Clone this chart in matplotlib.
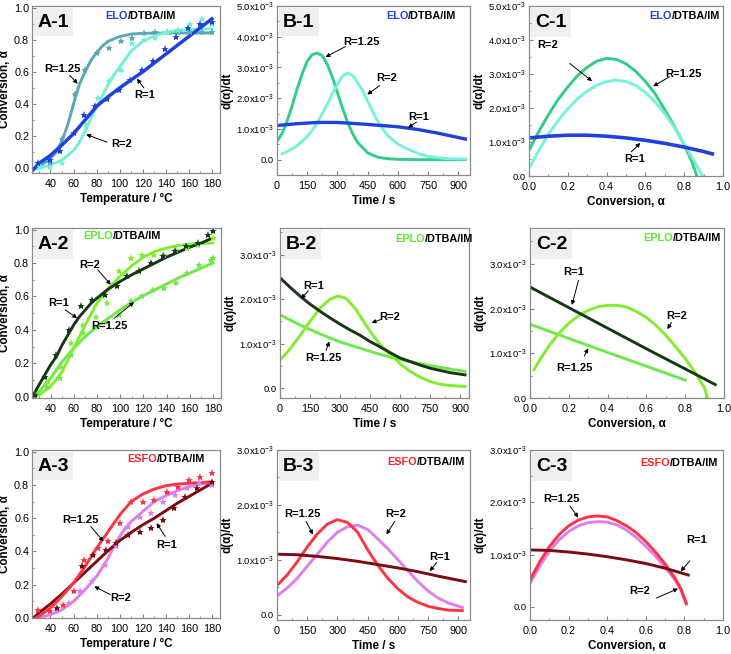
import numpy as np
import matplotlib
matplotlib.use("Agg")
import matplotlib.pyplot as plt
from matplotlib.patches import Rectangle
from matplotlib.ticker import MultipleLocator, FuncFormatter

plt.rcParams['font.family'] = ['Liberation Sans', 'DejaVu Sans']
plt.rcParams['mathtext.default'] = 'regular'

#---------------------------------------------------------------- data ----------------------------------------------------------------#
# rates (d(alpha)/dt) are stored in units of 1e-3 s^-1

# A-1  ELO conversion vs temperature
a1_T_R1 = [25, 30, 40, 50, 60, 70, 80, 90, 100, 110, 120, 130, 140, 150, 160, 170, 180]
a1_a_R1 = [-0.01, 0.03, 0.08, 0.145, 0.215, 0.30, 0.385, 0.445, 0.50, 0.55, 0.60, 0.655, 0.71, 0.765, 0.82, 0.875, 0.93]
a1_T_R125 = [25, 30, 40, 45, 50, 55, 60, 65, 70, 75, 80, 85, 90, 100, 110, 120, 140, 160, 180]
a1_a_R125 = [-0.01, 0.01, 0.06, 0.10, 0.17, 0.27, 0.40, 0.52, 0.60, 0.67, 0.72, 0.76, 0.79, 0.82, 0.835, 0.84, 0.842, 0.842, 0.842]
a1_T_R2 = [25, 30, 40, 50, 60, 65, 70, 75, 80, 85, 90, 95, 100, 105, 110, 120, 130, 140, 150, 165, 180]
a1_a_R2 = [-0.01, 0.0, 0.02, 0.05, 0.11, 0.16, 0.23, 0.31, 0.38, 0.45, 0.52, 0.58, 0.63, 0.68, 0.73, 0.79, 0.825, 0.845, 0.858, 0.865, 0.868]
a1_sT_R1 = [29, 40, 48, 60, 69, 79, 89, 99, 109, 119, 129, 139, 149, 159, 170, 180]
a1_sa_R1 = [0.03, 0.05, 0.11, 0.22, 0.33, 0.39, 0.43, 0.49, 0.55, 0.61, 0.67, 0.74, 0.82, 0.87, 0.90, 0.91]
a1_sT_R125 = [30, 40, 50, 61, 70, 80, 91, 101, 111, 121, 131, 141, 151, 161, 171, 180]
a1_sa_R125 = [0.02, 0.03, 0.18, 0.46, 0.61, 0.72, 0.75, 0.79, 0.81, 0.84, 0.85, 0.85, 0.85, 0.85, 0.85, 0.85]
a1_sT_R2 = [32, 40, 50, 71, 81, 91, 101, 111, 121, 131, 141, 151, 161, 171, 180]
a1_sa_R2 = [0.01, 0.01, 0.03, 0.27, 0.44, 0.54, 0.61, 0.78, 0.80, 0.81, 0.85, 0.86, 0.90, 0.93, 0.90]

# B-1  ELO rate vs time
b1_t_R1 = [0, 100, 200, 300, 400, 500, 600, 700, 800, 935]
b1_r_R1 = [1.11, 1.17, 1.21, 1.21, 1.17, 1.12, 1.07, 0.98, 0.86, 0.67]
b1_t_R125 = [0, 25, 50, 75, 100, 125, 150, 175, 200, 225, 250, 275, 300, 325, 350, 375, 400, 450, 500, 550, 600, 700, 800, 935]
b1_r_R125 = [0.60, 0.85, 1.25, 1.75, 2.30, 2.80, 3.20, 3.42, 3.47, 3.38, 3.10, 2.68, 2.18, 1.68, 1.22, 0.85, 0.56, 0.22, 0.08, 0.03, 0.01, 0.0, 0.0, 0.0]
b1_t_R2 = [26, 50, 100, 150, 175, 200, 225, 250, 275, 300, 325, 350, 375, 400, 425, 450, 475, 500, 525, 550, 600, 650, 700, 750, 800, 850, 935]
b1_r_R2 = [0.19, 0.26, 0.45, 0.75, 0.96, 1.20, 1.50, 1.80, 2.15, 2.45, 2.72, 2.82, 2.74, 2.52, 2.24, 1.90, 1.56, 1.25, 1.00, 0.78, 0.50, 0.34, 0.20, 0.11, 0.06, 0.03, 0.02]

# C-1  ELO rate vs conversion
c1_c_R1 = [0.0, 0.1, 0.2, 0.3, 0.4, 0.5, 0.6, 0.7, 0.8, 0.9, 0.945]
c1_r_R1 = [1.12, 1.17, 1.20, 1.20, 1.17, 1.12, 1.05, 0.96, 0.85, 0.72, 0.65]
c1_c_R125 = [0.0, 0.05, 0.1, 0.15, 0.2, 0.25, 0.3, 0.35, 0.4, 0.45, 0.5, 0.55, 0.6, 0.65, 0.7, 0.75, 0.8, 0.84, 0.865]
c1_r_R125 = [0.76, 1.30, 1.80, 2.25, 2.62, 2.95, 3.20, 3.38, 3.46, 3.43, 3.30, 3.08, 2.78, 2.42, 1.95, 1.45, 0.92, 0.42, 0.0]
c1_c_R2 = [0.0, 0.05, 0.1, 0.15, 0.2, 0.25, 0.3, 0.35, 0.4, 0.45, 0.5, 0.55, 0.6, 0.65, 0.7, 0.75, 0.8, 0.85, 0.895]
c1_r_R2 = [0.22, 0.75, 1.22, 1.63, 1.98, 2.27, 2.50, 2.67, 2.78, 2.82, 2.78, 2.66, 2.46, 2.18, 1.83, 1.42, 0.95, 0.45, 0.0]

# A-2  EPLO conversion vs temperature
a2_T_R1 = [26, 30, 35, 40, 45, 50, 55, 60, 65, 70, 75, 80, 90, 100, 110, 120, 130, 140, 150, 160, 170, 178]
a2_a_R1 = [0.02, 0.07, 0.13, 0.19, 0.24, 0.31, 0.37, 0.43, 0.48, 0.52, 0.56, 0.59, 0.645, 0.69, 0.73, 0.765, 0.80, 0.835, 0.865, 0.895, 0.92, 0.945]
a2_T_R125 = [26, 30, 40, 50, 60, 70, 80, 90, 100, 110, 120, 130, 140, 150, 160, 170, 180]
a2_a_R125 = [0.0, 0.03, 0.11, 0.21, 0.29, 0.36, 0.42, 0.47, 0.52, 0.565, 0.605, 0.64, 0.675, 0.71, 0.74, 0.77, 0.80]
a2_T_R2 = [26, 30, 40, 50, 60, 70, 80, 90, 95, 100, 110, 120, 130, 140, 150, 160, 170, 180]
a2_a_R2 = [0.0, 0.01, 0.06, 0.15, 0.29, 0.43, 0.56, 0.65, 0.685, 0.72, 0.785, 0.835, 0.87, 0.89, 0.905, 0.913, 0.918, 0.92]
a2_sT_R1 = [27, 35, 45, 56, 66, 76, 87, 97, 106, 116, 127, 137, 147, 157, 167, 176, 180]
a2_sa_R1 = [0.01, 0.12, 0.25, 0.40, 0.54, 0.58, 0.61, 0.66, 0.72, 0.75, 0.80, 0.84, 0.87, 0.90, 0.92, 0.97, 0.99]
a2_sT_R125 = [27, 37, 48, 58, 68, 78, 88, 99, 109, 119, 128, 138, 148, 158, 168, 178, 180]
a2_sa_R125 = [0.01, 0.06, 0.11, 0.25, 0.38, 0.42, 0.45, 0.49, 0.57, 0.60, 0.64, 0.65, 0.68, 0.74, 0.79, 0.82, 0.83]
a2_sT_R2 = [27, 38, 49, 58, 68, 79, 89, 99, 109, 119, 129, 138, 148, 158, 167, 180]
a2_sa_R2 = [0.0, 0.09, 0.18, 0.32, 0.43, 0.48, 0.56, 0.75, 0.83, 0.85, 0.85, 0.85, 0.88, 0.89, 0.91, 0.95]

# B-2  EPLO rate vs time
b2_t_R1 = [0, 50, 100, 150, 200, 250, 300, 350, 400, 450, 500, 550, 600, 650, 700, 750, 800, 850, 925]
b2_r_R1 = [2.48, 2.27, 2.07, 1.89, 1.73, 1.58, 1.44, 1.31, 1.19, 1.05, 0.93, 0.80, 0.68, 0.60, 0.52, 0.45, 0.40, 0.35, 0.30]
b2_t_R125 = [0, 100, 200, 300, 400, 500, 575, 650, 750, 850, 925]
b2_r_R125 = [1.65, 1.42, 1.22, 1.04, 0.90, 0.76, 0.67, 0.60, 0.51, 0.43, 0.38]
b2_t_R2 = [0, 50, 100, 150, 200, 250, 290, 330, 375, 425, 450, 500, 550, 575, 600, 650, 700, 750, 800, 850, 925]
b2_r_R2 = [0.63, 0.88, 1.18, 1.50, 1.80, 2.00, 2.07, 2.02, 1.80, 1.45, 1.28, 0.98, 0.77, 0.67, 0.55, 0.38, 0.25, 0.15, 0.09, 0.06, 0.04]

# C-2  EPLO rate vs conversion
c2_c_R1 = [0.0, 0.2, 0.4, 0.6, 0.8, 0.955]
c2_r_R1 = [2.48, 2.02, 1.56, 1.10, 0.65, 0.30]
c2_c_R125 = [0.0, 0.2, 0.4, 0.6, 0.8]
c2_r_R125 = [1.65, 1.33, 1.02, 0.71, 0.40]
c2_c_R2 = [0.02, 0.05, 0.1, 0.15, 0.2, 0.25, 0.3, 0.35, 0.4, 0.45, 0.5, 0.55, 0.6, 0.65, 0.7, 0.75, 0.8, 0.85, 0.9, 0.915]
c2_r_R2 = [0.63, 0.85, 1.18, 1.45, 1.67, 1.84, 1.96, 2.04, 2.07, 2.07, 2.03, 1.93, 1.80, 1.62, 1.40, 1.15, 0.88, 0.58, 0.22, 0.0]

# A-3  ESFO conversion vs temperature
a3_T_R1 = [25, 30, 40, 50, 60, 70, 80, 90, 100, 110, 120, 130, 140, 150, 160, 170, 180]
a3_a_R1 = [0.0, 0.03, 0.085, 0.145, 0.21, 0.275, 0.34, 0.405, 0.465, 0.515, 0.56, 0.60, 0.645, 0.69, 0.73, 0.77, 0.81]
a3_T_R125 = [27, 30, 40, 50, 60, 70, 80, 90, 100, 110, 120, 130, 140, 150, 160, 170, 180]
a3_a_R125 = [0.0, 0.01, 0.06, 0.13, 0.21, 0.31, 0.42, 0.52, 0.62, 0.70, 0.745, 0.775, 0.795, 0.805, 0.81, 0.815, 0.818]
a3_T_R2 = [30, 40, 50, 60, 70, 80, 90, 95, 100, 105, 110, 120, 130, 140, 150, 160, 170, 180]
a3_a_R2 = [0.0, 0.02, 0.05, 0.10, 0.17, 0.25, 0.36, 0.43, 0.49, 0.54, 0.58, 0.64, 0.70, 0.735, 0.765, 0.79, 0.805, 0.812]
a3_sT_R1 = [46, 67, 77, 88, 97, 107, 118, 127, 138, 147, 157, 167, 180]
a3_sa_R1 = [0.06, 0.31, 0.38, 0.41, 0.45, 0.50, 0.52, 0.54, 0.59, 0.66, 0.73, 0.78, 0.82]
a3_sT_R125 = [29, 40, 51, 60, 69, 81, 90, 100, 110, 120, 130, 141, 151, 160, 170, 180]
a3_sa_R125 = [0.05, 0.04, 0.08, 0.16, 0.35, 0.42, 0.46, 0.57, 0.70, 0.70, 0.71, 0.76, 0.79, 0.83, 0.85, 0.87]
a3_sT_R2 = [46, 56, 66, 76, 87, 97, 107, 118, 127, 138, 148, 158, 169, 180]
a3_sa_R2 = [0.04, 0.09, 0.16, 0.22, 0.32, 0.43, 0.55, 0.61, 0.63, 0.70, 0.74, 0.78, 0.82, 0.80]

# B-3  ESFO rate vs time
b3_t_R1 = [0, 100, 200, 300, 400, 500, 600, 700, 800, 935]
b3_r_R1 = [1.10, 1.09, 1.06, 1.02, 0.97, 0.91, 0.85, 0.78, 0.70, 0.60]
b3_t_R125 = [0, 50, 100, 150, 200, 250, 300, 350, 400, 450, 500, 550, 600, 650, 700, 750, 800, 850, 920]
b3_r_R125 = [0.53, 0.72, 0.96, 1.23, 1.47, 1.65, 1.73, 1.68, 1.50, 1.18, 0.90, 0.66, 0.47, 0.32, 0.22, 0.15, 0.11, 0.08, 0.07]
b3_t_R2 = [0, 50, 100, 150, 200, 250, 300, 350, 400, 450, 500, 550, 600, 650, 700, 750, 800, 850, 920]
b3_r_R2 = [0.34, 0.48, 0.66, 0.88, 1.10, 1.32, 1.50, 1.60, 1.63, 1.55, 1.38, 1.20, 1.00, 0.80, 0.60, 0.43, 0.30, 0.21, 0.13]

# C-3  ESFO rate vs conversion
c3_c_R1 = [0.0, 0.1, 0.2, 0.3, 0.4, 0.5, 0.6, 0.7, 0.82]
c3_r_R1 = [1.09, 1.08, 1.05, 1.01, 0.96, 0.90, 0.83, 0.74, 0.61]
c3_c_R125 = [0.0, 0.05, 0.1, 0.15, 0.2, 0.25, 0.3, 0.35, 0.4, 0.45, 0.5, 0.55, 0.6, 0.65, 0.7, 0.75, 0.78, 0.81]
c3_r_R125 = [0.52, 0.86, 1.15, 1.38, 1.55, 1.66, 1.72, 1.74, 1.72, 1.65, 1.55, 1.42, 1.25, 1.05, 0.82, 0.56, 0.36, 0.07]
c3_c_R2 = [0.0, 0.05, 0.1, 0.15, 0.2, 0.25, 0.3, 0.35, 0.4, 0.45, 0.5, 0.55, 0.6, 0.65, 0.7, 0.75, 0.78, 0.81]
c3_r_R2 = [0.45, 0.78, 1.06, 1.28, 1.44, 1.55, 1.61, 1.63, 1.62, 1.57, 1.47, 1.33, 1.16, 0.97, 0.76, 0.52, 0.34, 0.05]

#---------------------------------------------------------------- colours ----------------------------------------------------------------#
ELO_R1, ELO_A125, ELO_A2, ELO_R125, ELO_R2 = '#2040e0', '#5aa7b5', '#72f0d6', '#33cc88', '#77f2da'
EPLO_R1, EPLO_R125, EPLO_R2 = '#163816', '#6ee84a', '#80ee30'
ESFO_R1, ESFO_R125, ESFO_R2 = '#7a0c10', '#ff3344', '#dd80ee'

W, H = 731, 654
fig = plt.figure(figsize=(W / 100, H / 100), dpi=100)


def make_ax(x0, y0, x1, y1):
    # pixel box -> figure fraction
    return fig.add_axes([x0 / W, 1 - y1 / H, (x1 - x0) / W, (y1 - y0) / H])


def sci_fmt(v, pos):
    if abs(v) < 1e-9:
        return '0.0'
    return f'{v:.1f}x10$^{{-3}}$'


def setup(ax, xlim, ylim, xmaj, ymaj, xlabel, ylabel, sci=False):
    ax.set_xlim(*xlim)
    ax.set_ylim(*ylim)
    ax.xaxis.set_major_locator(MultipleLocator(xmaj))
    ax.xaxis.set_minor_locator(MultipleLocator(xmaj / 2))
    ax.yaxis.set_major_locator(MultipleLocator(ymaj))
    ax.yaxis.set_minor_locator(MultipleLocator(ymaj / 2))
    ax.tick_params(which='both', direction='in', color='#808080')
    ax.tick_params(which='major', length=3)
    ax.tick_params(which='minor', length=1.5)
    ax.tick_params(axis='x', labelsize=7.8, pad=4)
    if sci:
        ax.yaxis.set_major_formatter(FuncFormatter(sci_fmt))
        ax.tick_params(axis='y', labelsize=6.8, pad=2)
    else:
        ax.yaxis.set_major_formatter(FuncFormatter(lambda v, p: f'{v:.1f}'))
        ax.tick_params(axis='y', labelsize=7.8, pad=2)
    for s in ax.spines.values():
        s.set_color('#8a8a8a')
        s.set_linewidth(0.9)
    ax.set_xlabel(xlabel, fontsize=8.4, fontweight='bold', labelpad=3)
    ax.set_ylabel(ylabel, fontsize=8.4, fontweight='bold', labelpad=2)


def tag(ax, label, sample, scol, jx, jy):
    ax.add_patch(Rectangle((0.012, 0.82), 0.205, 0.17, transform=ax.transAxes, facecolor='#efefef', edgecolor='none', zorder=1))
    ax.text(0.113, 0.902, label, transform=ax.transAxes, ha='center', va='center', fontsize=14, fontweight='bold', zorder=2)
    ax.text(jx, jy, sample, transform=ax.transAxes, ha='right', va='center', fontsize=7.8, fontweight='bold', color=scol)
    ax.text(jx, jy, '/DTBA/IM', transform=ax.transAxes, ha='left', va='center', fontsize=7.8, fontweight='bold', color='k')


def note(ax, label, txy, start, end):
    ax.text(txy[0], txy[1], label, ha='center', va='center', fontsize=8, fontweight='bold')
    ax.annotate('', xy=end, xytext=start,
                arrowprops=dict(arrowstyle='-|>', color='k', lw=0.7, mutation_scale=6, shrinkA=0, shrinkB=0))


TLAB = 'Temperature / °C'
SLAB = 'Time / s'
CLAB = 'Conversion, α'
ALAB = 'Conversion, α'
RLAB = 'd(α)/dt'
LW = 2.1
MS = 6

#---------------------------------------------------------------- row 1 : ELO ----------------------------------------------------------------#
ax = make_ax(32, 6, 220, 173)
setup(ax, (24, 187), (-0.03, 1.01), 20, 0.2, TLAB, ALAB)
ax.plot(a1_T_R125, a1_a_R125, color=ELO_A125, lw=LW)
ax.plot(a1_T_R2, a1_a_R2, color=ELO_A2, lw=LW)
ax.plot(a1_T_R1, a1_a_R1, color=ELO_R1, lw=2.5)
ax.plot(a1_sT_R125, a1_sa_R125, '*', color=ELO_A125, ms=MS, mew=0)
ax.plot(a1_sT_R2, a1_sa_R2, '*', color=ELO_A2, ms=MS, mew=0)
ax.plot(a1_sT_R1, a1_sa_R1, '*', color=ELO_R1, ms=MS, mew=0)
note(ax, 'R=1.25', (50, 0.62), (56.7, 0.578), (63.6, 0.526))
note(ax, 'R=1', (122, 0.453), (121, 0.50), (115, 0.557))
note(ax, 'R=2', (102, 0.148), (89, 0.162), (71, 0.21))
tag(ax, 'A-1', 'ELO', '#2244ee', 0.51, 0.94)

ax = make_ax(277, 6, 470, 175)
setup(ax, (0, 958), (-0.5, 5.0), 150, 1.0, SLAB, RLAB, sci=True)
ax.plot(b1_t_R125, b1_r_R125, color=ELO_R125, lw=LW)
ax.plot(b1_t_R2, b1_r_R2, color=ELO_R2, lw=LW)
ax.plot(b1_t_R1, b1_r_R1, color=ELO_R1, lw=2.4)
note(ax, 'R=1.25', (418, 3.84), (340, 3.68), (241, 3.34))
note(ax, 'R=2', (543, 2.66), (510, 2.41), (448, 2.12))
note(ax, 'R=1', (701, 1.39), (692, 1.22), (651, 1.04))
tag(ax, 'B-1', 'ELO', '#2244ee', 0.68, 0.943)

ax = make_ax(529, 6, 723, 176)
setup(ax, (0, 1.0), (0, 5.0), 0.2, 1.0, CLAB, RLAB, sci=True)
ax.plot(c1_c_R125, c1_r_R125, color=ELO_R125, lw=LW)
ax.plot(c1_c_R2, c1_r_R2, color=ELO_R2, lw=LW)
ax.plot(c1_c_R1, c1_r_R1, color=ELO_R1, lw=2.6)
note(ax, 'R=2', (0.098, 3.85), (0.21, 3.31), (0.325, 2.79))
note(ax, 'R=1.25', (0.794, 3.0), (0.725, 2.92), (0.64, 2.64))
note(ax, 'R=1', (0.545, 0.51), (0.527, 0.71), (0.574, 0.97))
tag(ax, 'C-1', 'ELO', '#2244ee', 0.735, 0.943)

#---------------------------------------------------------------- row 2 : EPLO ----------------------------------------------------------------#
ax = make_ax(32, 228, 221, 398)
setup(ax, (24, 187), (-0.008, 1.01), 20, 0.2, TLAB, ALAB)
ax.plot(a2_T_R125, a2_a_R125, color=EPLO_R125, lw=LW)
ax.plot(a2_T_R2, a2_a_R2, color=EPLO_R2, lw=LW)
ax.plot(a2_T_R1, a2_a_R1, color=EPLO_R1, lw=LW)
ax.plot(a2_sT_R125, a2_sa_R125, '*', color=EPLO_R125, ms=MS, mew=0)
ax.plot(a2_sT_R2, a2_sa_R2, '*', color=EPLO_R2, ms=MS, mew=0)
ax.plot(a2_sT_R1, a2_sa_R1, '*', color=EPLO_R1, ms=MS, mew=0)
note(ax, 'R=1', (47, 0.56), (52.6, 0.52), (63, 0.47))
note(ax, 'R=2', (74, 0.79), (80.7, 0.76), (92, 0.67))
note(ax, 'R=1.25', (91, 0.424), (95, 0.47), (112, 0.566))
tag(ax, 'A-2', 'EPLO', '#55ee22', 0.43, 0.955)

ax = make_ax(280, 228, 469, 398)
setup(ax, (0, 945), (-0.22, 3.6), 150, 1.0, SLAB, RLAB, sci=True)
ax.plot(b2_t_R125, b2_r_R125, color=EPLO_R125, lw=LW)
ax.plot(b2_t_R2, b2_r_R2, color=EPLO_R2, lw=LW)
ax.plot(b2_t_R1, b2_r_R1, color=EPLO_R1, lw=LW)
note(ax, 'R=1', (167, 2.29), (142, 2.19), (105, 2.01))
note(ax, 'R=2', (550, 1.60), (508, 1.55), (458, 1.47))
note(ax, 'R=1.25', (217, 0.67), (230, 0.85), (247, 1.05))
tag(ax, 'B-2', 'EPLO', '#55ee22', 0.767, 0.935)

ax = make_ax(530, 228, 724, 398)
setup(ax, (0, 1.0), (0, 3.8), 0.2, 1.0, CLAB, RLAB, sci=True)
ax.plot(c2_c_R125, c2_r_R125, color=EPLO_R125, lw=LW)
ax.plot(c2_c_R2, c2_r_R2, color=EPLO_R2, lw=LW)
ax.plot(c2_c_R1, c2_r_R1, color=EPLO_R1, lw=LW)
note(ax, 'R=1', (0.223, 2.81), (0.25, 2.63), (0.216, 2.08))
note(ax, 'R=2', (0.755, 1.84), (0.729, 1.69), (0.708, 1.54))
note(ax, 'R=1.25', (0.23, 0.68), (0.28, 0.94), (0.30, 1.11))
tag(ax, 'C-2', 'EPLO', '#55ee22', 0.739, 0.943)

#---------------------------------------------------------------- row 3 : ESFO ----------------------------------------------------------------#
ax = make_ax(32, 450, 220, 618)
setup(ax, (24, 187), (0, 1.01), 20, 0.2, TLAB, ALAB)
ax.plot(a3_T_R2, a3_a_R2, color=ESFO_R2, lw=LW)
ax.plot(a3_T_R1, a3_a_R1, color=ESFO_R1, lw=LW)
ax.plot(a3_T_R125, a3_a_R125, color=ESFO_R125, lw=LW)
ax.plot(a3_sT_R2, a3_sa_R2, '*', color=ESFO_R2, ms=MS, mew=0)
ax.plot(a3_sT_R1, a3_sa_R1, '*', color=ESFO_R1, ms=MS, mew=0)
ax.plot(a3_sT_R125, a3_sa_R125, '*', color=ESFO_R125, ms=MS, mew=0)
note(ax, 'R=1.25', (66.4, 0.59), (75, 0.55), (86, 0.46))
note(ax, 'R=2', (101, 0.12), (92, 0.14), (78, 0.19))
note(ax, 'R=1', (141, 0.44), (139.5, 0.49), (132, 0.57))
tag(ax, 'A-3', 'ESFO', '#ff2222', 0.663, 0.946)

ax = make_ax(277, 450, 470, 620)
setup(ax, (0, 958), (-0.1, 3.0), 150, 1.0, SLAB, RLAB, sci=True)
ax.plot(b3_t_R2, b3_r_R2, color=ESFO_R2, lw=LW)
ax.plot(b3_t_R125, b3_r_R125, color=ESFO_R125, lw=LW)
ax.plot(b3_t_R1, b3_r_R1, color=ESFO_R1, lw=LW)
note(ax, 'R=1.25', (128, 1.83), (144, 1.70), (178, 1.46))
note(ax, 'R=2', (590, 1.83), (585, 1.70), (543, 1.46))
note(ax, 'R=1', (809, 1.04), (792, 0.95), (759, 0.79))
tag(ax, 'B-3', 'ESFO', '#ff2222', 0.724, 0.928)

ax = make_ax(530, 450, 723, 620)
setup(ax, (0, 1.0), (-0.25, 3.0), 0.2, 1.0, CLAB, RLAB, sci=True)
ax.plot(c3_c_R2, c3_r_R2, color=ESFO_R2, lw=LW)
ax.plot(c3_c_R125, c3_r_R125, color=ESFO_R125, lw=LW)
ax.plot(c3_c_R1, c3_r_R1, color=ESFO_R1, lw=LW)
note(ax, 'R=1.25', (0.164, 2.06), (0.207, 1.93), (0.25, 1.71))
note(ax, 'R=1', (0.862, 1.27), (0.828, 0.88), (0.781, 0.68))
note(ax, 'R=2', (0.569, 0.30), (0.655, 0.17), (0.767, 0.35))
tag(ax, 'C-3', 'ESFO', '#ff2222', 0.725, 0.922)

fig.savefig('out.png', dpi=100)
